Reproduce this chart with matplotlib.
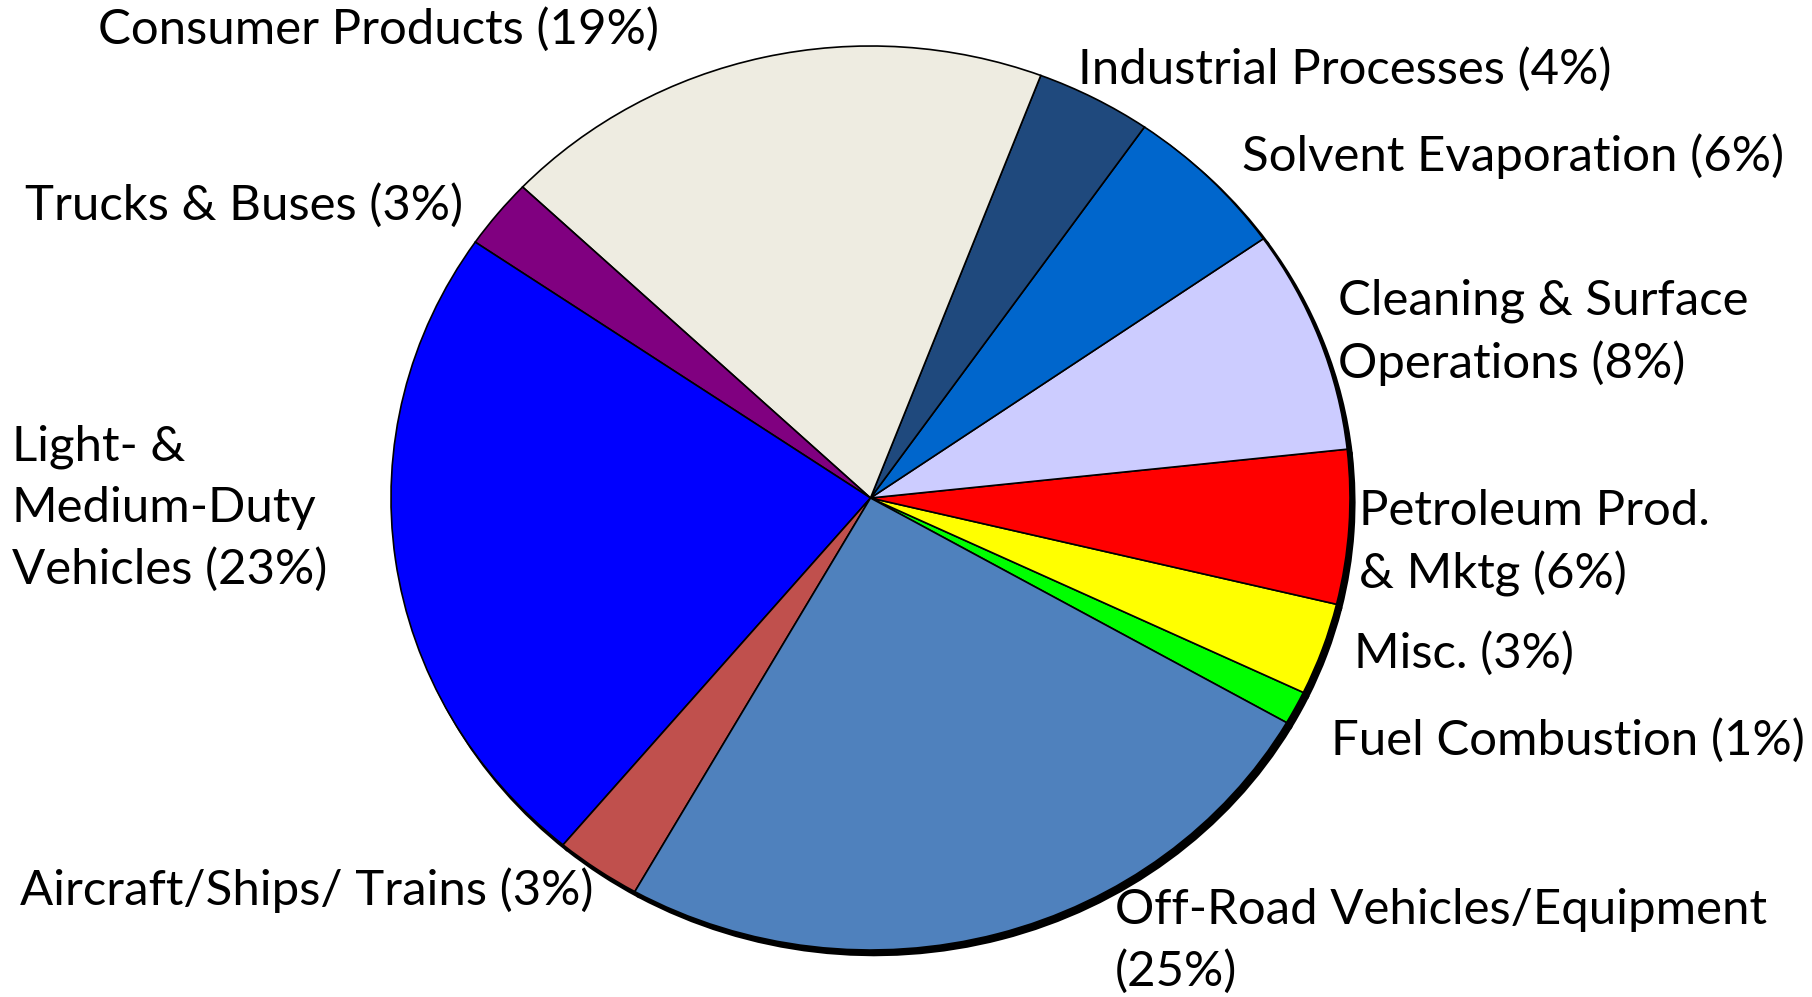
import matplotlib.pyplot as plt

# VOC emission sources, counter-clockwise starting from Fuel Combustion
labels = ["Fuel Combustion (1%)", "Misc. (3%)", "Petroleum Prod.\n& Mktg (6%)",
          "Cleaning & Surface\nOperations (8%)", "Solvent Evaporation (6%)",
          "Industrial Processes (4%)", "Consumer Products (19%)",
          "Trucks & Buses (3%)", "Light- &\nMedium-Duty\nVehicles (23%)",
          "Aircraft/Ships/ Trains (3%)", "Off-Road Vehicles/Equipment\n(25%)"]
values = [1.2, 3.3, 5.5, 8.0, 5.6, 3.9, 18.7, 2.5, 23.5, 2.9, 24.9]
colors = ["#00FF00", "#FFFF00", "#FF0000", "#CCCCFF", "#0066CC", "#1F497D",
          "#EEECE1", "#800080", "#0000FF", "#C0504D", "#4F81BD"]

# label anchor positions in pixels (left edge, vertical centre)
label_pos = [(1331, 740), (1354, 653), (1359, 543), (1338, 332), (1242, 156),
             (1078, 69), (98, 29), (25, 205), (12, 508), (20, 890), (1115, 941)]

W, H = 1812, 997
fig = plt.figure(figsize=(W / 100, H / 100), dpi=100)

# pie is a slightly squashed circle: centre (870, 498), rx 480, ry 452 px
cx, cy, rx, ry = 870.5, 498, 479.5, 452
pad = 1.1
ax = fig.add_axes([(cx - rx * pad) / W, (H - cy - ry * pad) / H,
                   2 * rx * pad / W, 2 * ry * pad / H])

# dark shadow behind the pie (right / bottom)
ax.pie(values, colors=["black"] * len(values), startangle=-29.8,
       counterclock=True, center=(0.008, -0.010),
       wedgeprops=dict(linewidth=2.5, edgecolor="black"))
ax.pie(values, colors=colors, startangle=-29.8, counterclock=True,
       wedgeprops=dict(linewidth=1.2, edgecolor="black"))

ax.set_aspect("auto")
ax.set_xlim(-pad, pad)
ax.set_ylim(-pad, pad)
ax.set_axis_off()

for text, (px, py) in zip(labels, label_pos):
    fig.text(px / W, 1 - py / H, text, fontsize=35.4, family="Lato",
             ha="left", va="center", linespacing=1.47)

fig.savefig("out.png", dpi=100, facecolor="white")
